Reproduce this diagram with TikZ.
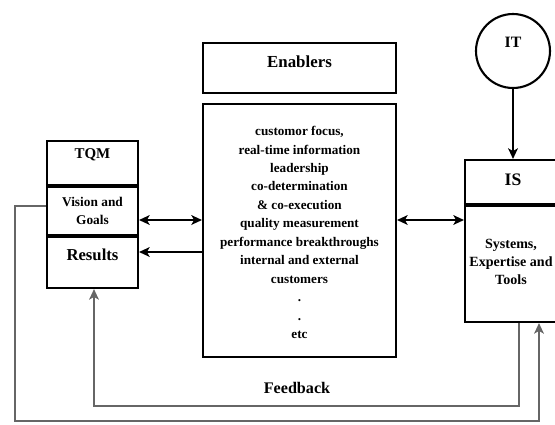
\documentclass[tikz,border=0pt]{standalone}
\usepackage{fontspec}
\setmainfont{Liberation Serif}
\usetikzlibrary{arrows.meta}

\begin{document}
\begin{tikzpicture}[x=0.02cm, y=-0.02cm, font=\bfseries,
    >={Stealth[length=6pt, width=5.5pt, inset=1.5pt]},
    box/.style={draw, line width=1.2pt, rectangle, inner sep=0pt},
    sep/.style={line width=2.6pt},
    link/.style={line width=1.4pt},
    fb/.style={draw=black!60, line width=1.1pt},
    txt/.style={inner sep=1pt, align=center}]

    \useasboundingbox (0,0) rectangle (555,424);

    % TQM column
    \node [box, minimum width=1.82cm, minimum height=0.88cm] (tqm) at (92.5,163) {};
    \node [box, minimum width=1.82cm, minimum height=1cm] (vision) at (92.5,210) {};
    \node [box, minimum width=1.82cm, minimum height=1.06cm] (results) at (92.5,261.5) {};
    \draw [sep] (tqm.south west) -- (tqm.south east);
    \draw [sep] (vision.south west) -- (vision.south east);
    \node [txt, font=\fontsize{8.5}{10}\selectfont\bfseries] (tqmlbl) at (92.5,155) {TQM};
    \node [txt, font=\fontsize{7.6}{10.2}\selectfont\bfseries] (visionlbl) at (92.5,211) {Vision and\\Goals};
    \node [txt, font=\fontsize{9.5}{11}\selectfont\bfseries] (resultslbl) at (92.5,255) {Results};

    % Enablers
    \node [box, minimum width=3.86cm, minimum height=1cm] (enab) at (299.5,68) {};
    \node [txt, font=\fontsize{9.6}{11}\selectfont\bfseries] (enablbl) at (299.5,62) {Enablers};
    \node [box, minimum width=3.86cm, minimum height=5.06cm] (list) at (299.5,230.5) {};
    \node [txt, font=\fontsize{7.5}{10.5}\selectfont\bfseries] (listlbl) at (299.5,232.5)
        {customor focus,\\real-time information\\leadership\\co-determination\\
         \& co-execution\\quality measurement\\performance breakthroughs\\
         internal and external\\customers\\.\\.\\etc};

    % IT and IS
    \node [circle, draw, line width=1.2pt, minimum size=1.48cm] (it) at (513,51) {};
    \node [txt, font=\fontsize{9}{11}\selectfont\bfseries] (itlbl) at (513,42) {IT};
    \node [box, minimum width=1.9cm, minimum height=0.88cm] (is) at (512.5,182) {};
    \node [box, minimum width=1.9cm, minimum height=2.36cm] (sys) at (512.5,263) {};
    \draw [sep] (is.south west) -- (is.south east);
    \node [txt, font=\fontsize{10}{12}\selectfont\bfseries] (islbl) at (513,180) {IS};
    \node [txt, font=\fontsize{8}{10.2}\selectfont\bfseries] (syslbl) at (511,262) {Systems,\\Expertise and\\Tools};

    % Links
    \draw [link, ->] (it.south) -- (it.south |- is.north);
    \draw [link, <->] (vision.east |- 0,220) -- (list.west |- 0,220);
    \draw [link, <-] (results.east |- 0,252) -- (list.west |- 0,252);
    \draw [link, <->] (list.east |- 0,220) -- (sys.west |- 0,220);

    % Feedback loops
    \draw [fb, ->] (519,0 |- sys.south) -- (519,406) -- (94,406) -- (94,0 |- results.south);
    \draw [fb, ->] (vision.west |- 0,206) -- (15,206) -- (15,421) -- (539,421) -- (539,0 |- sys.south);
    \node [txt, font=\fontsize{9.2}{11}\selectfont\bfseries] (fblbl) at (297,388) {Feedback};

\end{tikzpicture}
\end{document}
